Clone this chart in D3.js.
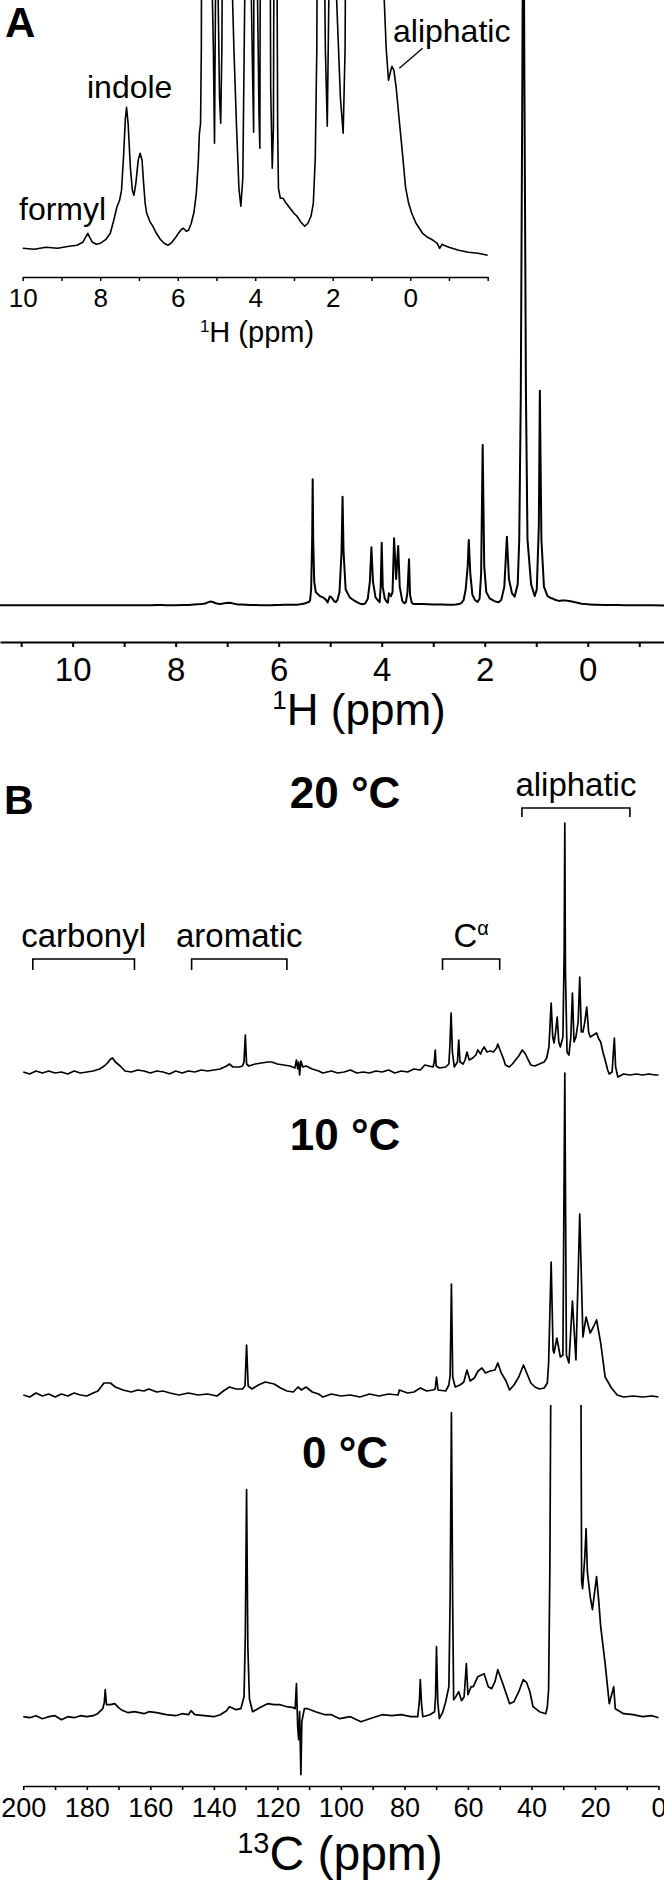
<!DOCTYPE html>
<html>
<head>
<meta charset="utf-8">
<script src="https://cdn.jsdelivr.net/npm/d3@7"></script>
<style>
  body { margin: 0; background: #fff; }
  svg text { font-family: "Liberation Sans", Arial, sans-serif; fill: #000; }
</style>
</head>
<body>
<div id="chart"></div>
<script>
var svgWidth = 664;
var svgHeight = 1888;

// 1H spectrum, [ppm, intensity] (units of the inset; main trace is the same data scaled down)
var protonSpectrum = [
  [11.5,0],[11,0],[10.5,-1],[10,0],[9.7,-1],[9.4,1],[9.1,0],[8.8,2],[8.6,3],[8.45,6],[8.38,11],[8.32,15],[8.27,11],
  [8.2,6],[8.1,4],[8.0,5],[7.85,9],[7.74,15],[7.65,28],[7.57,41],[7.5,48],[7.45,58],[7.4,90],[7.35,130],[7.32,141],
  [7.28,125],[7.22,80],[7.17,58],[7.13,53],[7.08,65],[7.02,88],[6.97,95],[6.92,88],[6.88,65],[6.84,45],[6.8,35],
  [6.72,27],[6.64,22],[6.55,15],[6.45,9],[6.35,5],[6.25,3],[6.15,6],[6.05,11],[5.98,15],[5.9,19],[5.85,20],[5.78,17],
  [5.72,18],[5.65,25],[5.58,36],[5.52,55],[5.47,85],[5.44,115],[5.41,125],[5.39,200],[5.37,600],[5.35,2500],
  [5.34,4788],[5.33,2500],[5.31,900],[5.28,500],[5.2,350],[5.12,280],[5.08,200],[5.05,105],[5.03,220],[5.01,330],
  [4.99,327],[4.96,260],[4.92,150],[4.89,125],[4.86,200],[4.82,500],[4.78,2000],[4.76,4127],[4.74,2000],[4.7,600],
  [4.62,300],[4.55,200],[4.48,120],[4.42,60],[4.37,42],[4.32,70],[4.27,250],[4.23,900],[4.2,2204],[4.17,900],
  [4.12,300],[4.07,180],[4.04,116],[4.02,700],[4.0,2379],[3.98,700],[3.94,250],[3.9,130],[3.88,100],[3.86,456],
  [3.82,350],[3.79,500],[3.76,2546],[3.72,1000],[3.68,2253],[3.65,700],[3.6,160],[3.56,80],[3.53,120],[3.5,500],
  [3.47,1748],[3.45,400],[3.42,120],[3.4,60],[3.35,50],[3.28,50],[3.2,45],[3.1,40],[3.0,35],[2.92,32],[2.82,26],
  [2.72,22],[2.64,25],[2.56,32],[2.5,45],[2.45,90],[2.41,200],[2.37,600],[2.33,1500],[2.31,2481],[2.28,1200],
  [2.24,400],[2.19,200],[2.14,122],[2.1,250],[2.07,1200],[2.04,6091],[2.01,1500],[1.97,500],[1.9,250],[1.8,150],
  [1.73,115],[1.68,200],[1.62,700],[1.57,2607],[1.53,1000],[1.47,450],[1.42,327],[1.36,800],[1.33,2500],
  [1.3,8000],[1.27,20000],[1.25,30000],[1.23,20000],[1.2,8000],[1.17,2500],[1.1,800],[1.03,350],[0.99,600],
  [0.95,3000],[0.93,8155],[0.9,2500],
  [0.85,700],[0.78,350],[0.72,280],[0.67,248],[0.62,200],[0.56,168],[0.5,178],[0.47,182],[0.42,178],[0.36,160],
  [0.29,131],[0.2,95],[0.12,61],[0.04,45],[-0.04,35],[-0.15,25],[-0.32,15],[-0.45,11],[-0.59,8],[-0.7,5],
  [-0.76,0],[-0.82,4],[-0.87,3],[-1.0,1],[-1.25,-2],[-1.5,-4],[-1.75,-5],[-2.0,-7]
];

// 13C spectra, [ppm, intensity]
var carbon20 = [
  [200,0],[198,-2],[196,1],[194,-1],[192,1],[190,-1],[188,0],[186,-2],[184,1],[182,-1],[180,0],[178,1],[176,3],
  [174.5,6],[173.5,9],[172.5,13],[171.9,14],[171,10],[169.5,6],[168,1],[166,0],[164,2],[162,1],[160,-1],[158,1],
  [156,0],[154,-2],[152,1],[150,-1],[148,1],[146,0],[144,2],[142,1],[140,2],[138,3],[136,6],[135.1,8],[134,5],
  [132,5],[131,6],[130.5,10],[130.1,37],[129.7,8],[129,6],[127,8],[125,9],[123,10],[121.8,10],[120,8],[118,7],
  [116,6],[114.5,4],[114,12],[113.6,3],[113.3,10],[113.0,-3],[112.6,11],[112,5],[111,6],[109,3],[107,1],[105.7,-1],
  [103,1],[101,-1],[99,0],[97,2],[95,-1],[93,0],[91,-1],[89,1],[87,0],[85,2],[83,-1],[81,1],[79,0],[77,3],[75,2],
  [73.6,7],[71,5],[70.6,10],[70.3,22],[70,6],[69,4],[67,5],[66,8],[65.7,25],[65.3,59],[64.9,20],[64.3,5],[63.3,10],
  [62.9,32],[62.5,10],[61.5,8],[60.9,12],[60.3,20],[59.6,12],[58.5,14],[57.5,17],[56.9,22],[56,18],[55.5,22],
  [54.9,25],[54,20],[53,21],[52,20],[51,24],[50.6,28],[49.9,22],[48.9,14],[48.2,7],[47,5],[46,8],[45,12],[44,16],
  [42.9,22],[41.9,18],[41,12],[40.2,7],[39,6],[37.5,8],[36,10],[35.2,14],[34.5,25],[33.8,69],[33.3,35],[32.9,29],
  [32.4,40],[31.9,55],[31.4,30],[30.9,25],[30.1,35],[29.7,120],[29.5,249],[29.3,100],[28.8,20],[28.2,17],[27.6,35],
  [27.1,79],[26.6,30],[26,35],[25.3,50],[24.8,95],[24.3,40],[23.8,40],[23.2,50],[22.6,65],[22,40],[21.5,35],
  [20.5,37],[19.5,39],[18.8,33],[18.2,30],[17.5,20],[16.8,12],[16,2],[15.5,-2],[14.6,0],[14.2,20],[13.9,34],
  [13.5,5],[12.8,-5],[11,-2],[9,-3],[7,-2],[5,-3],[3,-2],[1,-3],[0,-3]
];

var carbon10 = [
  [200,0],[198,-2],[196,2],[194,-1],[192,1],[190,-2],[188,1],[186,-1],[184,2],[182,0],[180,-1],[178,2],[176.5,4],
  [174.6,12],[172.6,12],[171,8],[168.6,5],[166,3],[164,5],[162,4],[160.5,6],[158,3],[156,4],[153.8,2],[151,0],
  [148,2],[145,0],[142,1],[139,-1],[137,4],[135.1,8],[133,6],[131,6],[130.2,9],[129.7,50],[129.2,9],[128,6],
  [126,10],[123.8,13],[121,11],[119,7],[117,4],[115,3],[113.5,8],[112.4,5],[111,8],[109,3],[107,1],[105.7,-2],
  [103,1],[100,-1],[97,0],[94,-2],[91,1],[88,-1],[85,1],[82,0],[81.6,5],[79,2],[77,3],[75,7],[73,4],[71,5],
  [70.3,6],[69.9,18],[69.4,5],[67,4],[66,10],[65.6,20],[65.2,111],[64.8,18],[64,8],[62.5,10],[61.3,13],[60.3,25],
  [59.3,14],[58,17],[56.8,24],[55.6,27],[54.5,22],[53,24],[51.5,25],[50.6,32],[49.5,22],[48,14],[46.9,5],
  [45.5,10],[44,18],[42.5,30],[41.5,22],[40.2,12],[38.9,8],[37.5,6],[36,7],[35,12],[34.6,32],[33.8,133],
  [33.2,45],[32.9,42],[32,57],[30.9,38],[30.1,40],[29.5,322],[29,40],[28.2,32],[27.1,94],[26,35],[24.8,181],
  [23.8,58],[22.8,78],[21.5,62],[20.5,68],[19.5,75],[18.2,52],[16.8,18],[14.8,7],[13,0],[11,-2],[8,-1],[5,-2],
  [2,-1],[0,-2]
];

var carbon0 = [
  [200,0],[198,-1],[196,1],[194,-2],[192,0],[190,1],[188,-3],[186,0],[184,-1],[182,1],[180,0],[178,1],[176.6,3],
  [175,8],[174.5,14],[174.2,27],[173.8,12],[172.5,12],[171.2,13],[170,9],[169.2,7],[167,4],[165,5],[162,3],
  [160.5,5],[158,4],[155,2],[152,1],[150,3],[148,2],[147.2,6],[146,2],[143,1],[140,0],[138,2],[136,6],[135.1,10],
  [133,7],[131.5,8],[130.5,20],[130.1,80],[129.7,227],[129.3,70],[128.8,18],[127.8,5],[125,10],[123.1,13],
  [121,12],[119.1,12],[117,10],[115,9],[114.4,8],[114,33],[113.6,-10],[113.3,-23],[113,5],[112.6,-58],[112.3,-5],
  [111.5,8],[110.4,8],[108,5],[105,2],[103,2],[100.4,-2],[97,0],[93.7,-5],[90,-1],[87,2],[84,1],[81,2],[78,0],
  [75.8,0],[75.3,15],[75,37],[74.6,12],[74.2,0],[72,2],[70.5,5],[70.2,20],[69.9,70],[69.5,15],[69,-2],[68,4],
  [67,15],[66,30],[65.6,120],[65.2,304],[64.8,110],[64.5,17],[63.8,20],[62.9,25],[62,16],[61.2,20],[60.5,53],
  [60,22],[59,30],[58.3,30],[56.9,40],[54.9,43],[53.6,30],[52.5,28],[51.5,35],[50.6,47],[49,33],[46.9,13],
  [45.5,15],[44,25],[42.6,37],[41.5,34],[40.5,25],[39.5,10],[37.5,5],[35.5,3],[35,10],[34.6,27],[34.2,150],
  [33.8,400],[29.5,900],[24.5,400],[24.2,135],[23.9,128],[23.2,160],[22.8,188],[22.4,145],[21.5,120],[20.8,107],
  [19.5,140],[18.8,115],[18.2,90],[16.8,53],[15.5,13],[14.1,30],[13.6,8],[11,3],[8,2],[5,0],[2,1],[0,-1]
];

var temperatures = ["20 °C", "10 °C", "0 °C"];
var carbonSeries = [carbon20, carbon10, carbon0];

// chemical shift regions marked in B (ppm)
var regionNames = ["carbonyl", "aromatic", "C", "aliphatic"];
var regionFrom = [197, 147, 68, 43];
var regionTo = [165, 117, 50, 9];

var protonTicks = d3.range(-1, 12);
var insetTicks = d3.range(-2, 11);
var carbonTicks = d3.range(0, 201, 10);

var insetGain = 38;

var svg = d3.select("#chart")
  .append("svg")
  .attr("width", svgWidth)
  .attr("height", svgHeight);

// small helper for axis styling
function styleAxis(g, fontSize, labelY, width) {
  g.attr("font-size", null).attr("font-family", null);
  g.select(".domain").attr("stroke-width", width);
  g.selectAll(".tick line").attr("stroke-width", width);
  g.selectAll(".tick text")
    .attr("y", labelY)
    .attr("dy", 0)
    .style("font-size", fontSize + "px");
}

function axisTitle(x, y, size, sup, rest) {
  var t = svg.append("text")
    .attr("x", x)
    .attr("y", y)
    .attr("text-anchor", "middle")
    .style("font-size", size + "px");
  t.append("tspan").text(sup).style("font-size", Math.round(size * 0.6) + "px").attr("dy", -size * 0.36);
  t.append("tspan").text(rest).attr("dy", size * 0.36);
}

// ---------------- Panel A: main 1H spectrum ----------------
var xMain = d3.scaleLinear().domain([11.41, -1.48]).range([0, svgWidth]);
var yMain = d3.scaleLinear().domain([0, 605.3 * insetGain]).range([605.3, 0]);

svg.append("path")
  .datum(protonSpectrum)
  .attr("fill", "none")
  .attr("stroke", "#000")
  .attr("stroke-width", 2)
  .attr("stroke-linejoin", "round")
  .attr("d", d3.line().x(d => xMain(d[0])).y(d => yMain(d[1])));

var mainAxis = svg.append("g")
  .attr("transform", "translate(0, 642)")
  .call(d3.axisBottom(xMain).tickValues(protonTicks).tickSize(5).tickSizeOuter(0)
    .tickFormat(d => d % 2 === 0 ? d : ""));
styleAxis(mainAxis, 33, 39, 2);

axisTitle(359, 725, 44, "1", "H (ppm)");

// ---------------- Panel A: inset ----------------
var xInset = d3.scaleLinear().domain([10, -2]).range([22.7, 487.7]);
var yInset = d3.scaleLinear().domain([0, 248.3]).range([248.3, 0]);

svg.append("path")
  .datum(protonSpectrum.filter(d => d[0] <= 10 && d[0] >= -2))
  .attr("fill", "none")
  .attr("stroke", "#000")
  .attr("stroke-width", 1.6)
  .attr("stroke-linejoin", "round")
  .attr("d", d3.line().x(d => xInset(d[0])).y(d => yInset(d[1])));

var insetAxis = svg.append("g")
  .attr("transform", "translate(0, 277)")
  .call(d3.axisBottom(xInset).tickValues(insetTicks).tickSize(4).tickSizeOuter(0)
    .tickFormat(d => (d % 2 === 0 && d >= 0) ? d : ""));
styleAxis(insetAxis, 26, 30, 1.5);

axisTitle(257, 342, 29, "1", "H (ppm)");

svg.append("text").attr("x", 5).attr("y", 37)
  .style("font-size", "42px").style("font-weight", "bold").text("A");
svg.append("text").attr("x", 19).attr("y", 220).style("font-size", "32px").text("formyl");
svg.append("text").attr("x", 87).attr("y", 98).style("font-size", "32px").text("indole");
svg.append("text").attr("x", 393).attr("y", 42).style("font-size", "32px").text("aliphatic");
svg.append("line")
  .attr("x1", xInset(-0.32)).attr("y1", yInset(200))
  .attr("x2", xInset(0.28)).attr("y2", yInset(180))
  .attr("stroke", "#000").attr("stroke-width", 1.3);

// ---------------- Panel B: 13C spectra ----------------
var xC = d3.scaleLinear().domain([200, 0]).range([23.3, 658.5]);
var yC = d3.scaleLinear().domain([0, 100]).range([0, -100]);
var carbonBase = [1072, 1395, 1716.7];
var labelBase = [808, 1150, 1468];

svg.append("clipPath").attr("id", "clip0")
  .append("rect").attr("x", 0).attr("y", 1405).attr("width", svgWidth).attr("height", 483);

carbonSeries.forEach(function(series, i) {
  var p = svg.append("g");
  if (i === 2) p.attr("clip-path", "url(#clip0)");
  p.append("path")
    .datum(series)
    .attr("transform", `translate(0, ${carbonBase[i]})`)
    .attr("fill", "none")
    .attr("stroke", "#000")
    .attr("stroke-width", 1.7)
    .attr("stroke-linejoin", "round")
    .attr("d", d3.line().x(d => xC(d[0])).y(d => yC(d[1])));

  svg.append("text")
    .attr("x", 345).attr("y", labelBase[i])
    .attr("text-anchor", "middle")
    .style("font-size", "44px").style("font-weight", "bold")
    .text(temperatures[i]);
});

// region brackets
regionNames.forEach(function(name, i) {
  var top = i === 3 ? 808 : 959;
  var drop = i === 3 ? 9 : 11;
  var x1 = xC(regionFrom[i]), x2 = xC(regionTo[i]);
  svg.append("path")
    .attr("d", `M${x1},${top + drop}V${top}H${x2}V${top + drop}`)
    .attr("fill", "none").attr("stroke", "#000").attr("stroke-width", 1.6);
  var t = svg.append("text")
    .attr("x", (x1 + x2) / 2)
    .attr("y", top - 12)
    .attr("text-anchor", "middle")
    .style("font-size", "33px")
    .text(name);
  if (name === "C") {
    t.append("tspan").text("α").style("font-size", "20px").attr("dy", -12);
  }
});

svg.append("text").attr("x", 4).attr("y", 814)
  .style("font-size", "41px").style("font-weight", "bold").text("B");

var carbonAxis = svg.append("g")
  .attr("transform", "translate(0, 1786)")
  .call(d3.axisBottom(xC).tickValues(carbonTicks).tickSize(4).tickSizeOuter(0)
    .tickFormat(d => d % 20 === 0 ? d : ""));
styleAxis(carbonAxis, 27, 31, 1.6);

axisTitle(340, 1870, 48, "13", "C (ppm)");
</script>
</body>
</html>
